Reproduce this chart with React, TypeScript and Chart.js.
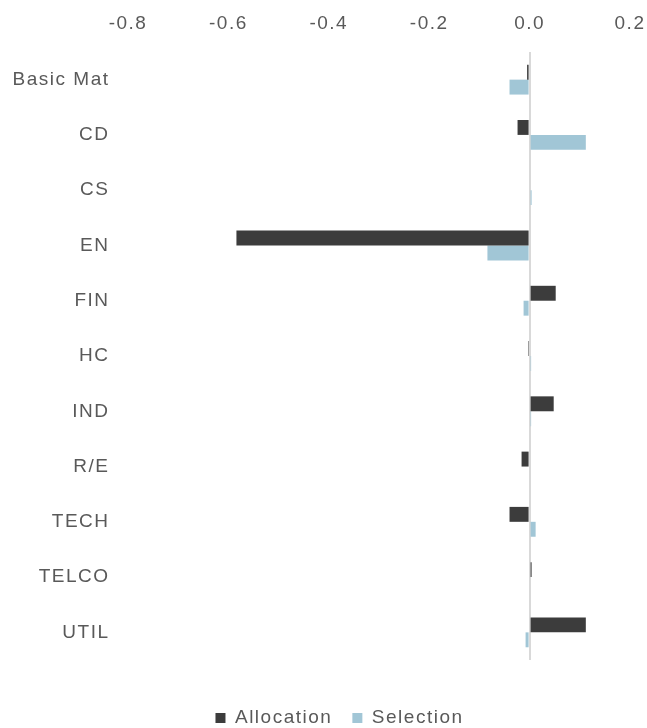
import React, { useEffect, useRef } from "react";
import { Chart, registerables } from "chart.js";

Chart.register(...registerables);

const categories = ["Basic Mat", "CD", "CS", "EN", "FIN", "HC", "IND", "R/E", "TECH", "TELCO", "UTIL"];
const allocation = [-0.005, -0.024, 0.0, -0.584, 0.052, -0.003, 0.048, -0.016, -0.04, 0.004, 0.112];
const selection = [-0.04, 0.112, 0.004, -0.084, -0.012, 0.003, 0.003, 0.0, 0.012, 0.002, -0.008];
const xMin = -0.8;
const xMax = 0.2;
const xStep = 0.2;

const FONT = "'Liberation Sans', Arial, sans-serif";
const FS = 19;

const spacingPlugin = {
  id: "letterSpacing",
  beforeUpdate(c: any) {
    c.ctx.letterSpacing = "1.5px";
  },
  beforeLayout(c: any) {
    c.ctx.letterSpacing = "1.5px";
  },
  afterLayout(c: any) {
    if (c.legend) {
      c.legend.left += 12;
      c.legend.right += 12;
    }
  },
  beforeDraw(c: any) {
    c.ctx.letterSpacing = "1.5px";
  },
};

export default function App() {
  const ref = useRef<HTMLCanvasElement | null>(null);
  useEffect(() => {
    document.body.style.margin = "0";
    const ctx = ref.current!.getContext("2d")!;
    const chart = new Chart(ctx, {
      type: "bar",
      plugins: [spacingPlugin],
      data: {
        labels: categories,
        datasets: [
          { label: "Allocation", data: allocation, backgroundColor: "#3c3c3c", borderWidth: 0, xAxisID: "x" },
          { label: "Selection", data: selection, backgroundColor: "#a1c6d6", borderWidth: 0, xAxisID: "x" },
        ],
      },
      options: {
        indexAxis: "y",
        animation: false,
        responsive: false,
        layout: { padding: { left: 8, right: 0, top: 8, bottom: -9.5 } },
        datasets: { bar: { categoryPercentage: 0.54, barPercentage: 1.0 } },
        scales: {
          x: {
            position: "top",
            min: xMin,
            max: xMax,
            ticks: {
              stepSize: xStep,
              color: "#595959",
              font: { family: FONT, size: FS },
              padding: 17,
              callback: (v: any) => Number(v).toFixed(1),
            },
            grid: {
              drawTicks: false,
              color: (c: any) => (c.tick && Math.abs(c.tick.value) < 1e-9 ? "#d9d9d9" : "rgba(0,0,0,0)"),
              lineWidth: 2,
            },
            border: { display: false },
            afterFit: (s: any) => {
              s.height = 44;
              s.paddingRight = 17;
              s.paddingLeft = 0;
            },
          },
          x2: {
            type: "linear",
            position: "bottom",
            min: xMin,
            max: xMax,
            display: true,
            ticks: { display: false },
            grid: { display: false, drawTicks: false },
            border: { display: false },
            afterFit: (s: any) => {
              s.height = 28.5;
              s.paddingRight = 0;
              s.paddingLeft = 0;
            },
          },
          y: {
            ticks: {
              color: "#595959",
              font: { family: FONT, size: FS },
              padding: 10.5,
            },
            grid: { display: false },
            border: { display: false },
            afterFit: (s: any) => {
              s.width = 120;
            },
          },
        },
        plugins: {
          tooltip: { enabled: false },
          legend: {
            position: "bottom",
            labels: {
              color: "#595959",
              font: { family: FONT, size: FS },
              boxWidth: 10,
              boxHeight: 10,
              padding: 20,
            },
          },
        },
      },
    });
    return () => chart.destroy();
  }, []);
  return (
    <div style={{ position: "absolute", left: 0, top: 0, width: 647, height: 728 }}>
      <canvas ref={ref} width={647} height={728} />
    </div>
  );
}
